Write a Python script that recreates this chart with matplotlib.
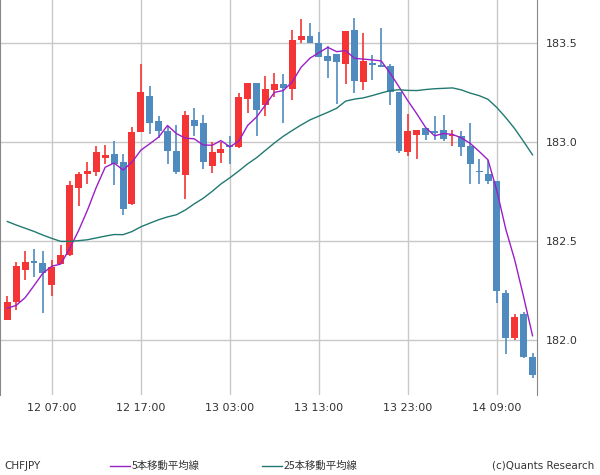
import matplotlib
matplotlib.use("Agg")
import matplotlib.pyplot as plt
import numpy as np

opens = [182.101,182.188,182.35,182.399,182.389,182.274,182.384,182.426,182.769,182.835,
         182.848,182.919,182.939,182.899,182.687,183.05,183.232,183.106,183.057,182.956,
         182.83,183.111,183.094,182.88,182.944,182.985,182.975,183.214,183.298,183.188,
         183.26,183.293,183.269,183.515,183.535,183.5,183.434,183.444,183.395,183.566,
         183.3,183.4,183.39,183.384,183.254,182.951,183.037,183.071,183.056,183.061,
         183.027,183.03,182.98,182.854,182.838,182.803,182.237,182.007,182.131,181.914]
closes = [182.192,182.374,182.394,182.385,182.335,182.367,182.429,182.783,182.838,182.854,
          182.949,182.934,182.889,182.662,183.05,183.253,183.097,183.057,182.956,182.845,
          183.136,183.082,182.9,182.949,182.965,182.976,183.227,183.298,183.163,183.268,
          183.293,183.274,183.515,183.535,183.498,183.431,183.409,183.406,183.561,183.305,
          183.409,183.39,183.38,183.254,182.956,183.056,183.061,183.032,183.047,183.015,
          183.032,182.976,182.89,182.845,182.8,182.244,182.007,182.116,181.911,181.82]
highs = [182.222,182.39,182.45,182.46,182.45,182.404,182.48,182.803,182.845,182.899,
         182.98,182.985,183.005,182.939,183.076,183.394,183.283,183.131,183.081,183.086,
         183.157,183.172,183.136,183.0,183.0,183.03,183.247,183.298,183.298,183.333,
         183.348,183.343,183.566,183.621,183.601,183.556,183.485,183.444,183.561,183.626,
         183.55,183.44,183.576,183.394,183.254,183.141,183.061,183.071,183.131,183.136,
         183.061,183.056,183.096,182.914,182.909,182.803,182.253,182.131,182.141,181.934]
lows = [182.101,182.148,182.30,182.315,182.136,182.219,182.384,182.421,182.678,182.788,
        182.828,182.889,182.783,182.631,182.682,183.05,183.04,183.017,182.89,182.835,
        182.709,183.03,182.865,182.84,182.895,182.89,182.97,183.146,183.03,183.131,
        183.229,183.097,183.209,183.5,183.498,183.431,183.323,183.193,183.294,183.249,
        183.264,183.315,183.38,183.188,182.946,182.926,182.913,183.01,183.01,183.005,
        182.98,182.926,182.789,182.789,182.789,182.183,181.926,182.0,181.906,181.805]
# estimated closes preceding the visible window (needed for moving averages)
prior_closes = [182.82,182.80,182.79,182.80,182.78,182.81,182.78,182.75,182.74,182.72,
                182.70,182.69,182.68,182.66,182.65,182.64,182.62,182.60,182.57,182.54,
                182.30,182.20,182.08,182.02]
tick_labels = ["12 07:00","12 17:00","13 03:00","13 13:00","13 23:00","14 09:00"]
tick_idx = [5,15,25,35,45,55]
yticks = [182.0,182.5,183.0,183.5]

allc = np.array(prior_closes + closes)
n = len(closes)
off = len(prior_closes)
ma5 = np.array([allc[off+i-4:off+i+1].mean() for i in range(n)])
ma25 = np.array([allc[off+i-24:off+i+1].mean() for i in range(n)])

RED = "#f53535"; BLUE = "#4f8bbf"
fig = plt.figure(figsize=(6,4.75), dpi=100)
ax = fig.add_axes([0.0, 1-395/475, 537/600, 395/475])
x = np.arange(n)
for i in x:
    c = RED if closes[i] >= opens[i] else BLUE
    ax.vlines(i, lows[i], highs[i], color=c, lw=1.2, zorder=3)
    b = min(opens[i], closes[i]); h = max(abs(closes[i]-opens[i]), 0.004)
    ax.bar(i, h, bottom=b, width=0.78, color=c, zorder=3, linewidth=0)
ax.plot(x, ma5, color="#9b1fc6", lw=1, zorder=4)
ax.plot(x, ma25, color="#217a72", lw=1, zorder=4)
ax.set_xlim(-0.82, 59.5)
ax.set_ylim(181.72, 183.717)
ax.set_xticks(tick_idx); ax.set_xticklabels(tick_labels)
ax.set_yticks(yticks); ax.set_yticklabels([f"{v:.1f}" for v in yticks])
ax.yaxis.tick_right()
ax.grid(True, color="#c8c8c8", lw=1)
ax.set_axisbelow(True)
ax.tick_params(length=0, labelsize=8, colors="#333333", pad=6)
for s in ["top","bottom"]:
    ax.spines[s].set_visible(False)
ax.spines["right"].set_color("#888888")
ax.spines["left"].set_color("#888888")

fig.text(0.008, 466/475*0+1-466/475, "CHFJPY", fontsize=7.5, va="center", color="#333333")
ly = 1-466/475
fig.add_artist(plt.Line2D([110/600,130/600],[ly,ly], color="#9b1fc6", lw=1))
fig.text(132/600, ly, "5本移動平均線", fontsize=7.5, va="center", color="#333333", family="Noto Sans CJK JP")
fig.add_artist(plt.Line2D([262/600,282/600],[ly,ly], color="#217a72", lw=1))
fig.text(284/600, ly, "25本移動平均線", fontsize=7.5, va="center", color="#333333", family="Noto Sans CJK JP")
fig.text(0.99, ly, "(c)Quants Research", fontsize=7.5, va="center", ha="right", color="#333333")
fig.savefig("out.png", dpi=100)
